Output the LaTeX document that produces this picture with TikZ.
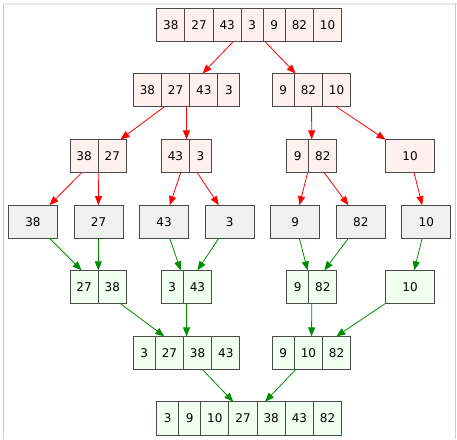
\documentclass[tikz,border=0pt]{standalone}
\usepackage{fontspec}
\setmainfont{DejaVu Sans}
\usetikzlibrary{arrows.meta,positioning,fit}
\definecolor{pinkf}{HTML}{FFF0F0}
\definecolor{grayf}{HTML}{F0F0F0}
\definecolor{greenf}{HTML}{F0FFF0}
\definecolor{edgered}{HTML}{FF0000}
\definecolor{edgegreen}{HTML}{008C00}
\definecolor{bord}{HTML}{4A4A4A}
\definecolor{frametop}{HTML}{EAECF0}
\definecolor{frameside}{HTML}{C8CCD1}
\tikzset{
  cell/.style={draw=bord, line width=0.9pt, outer sep=0pt, minimum height=33.3pt,
    inner sep=0pt, font=\fontsize{12}{14}\selectfont},
  two/.style={cell, minimum width=28.2pt},
  one/.style={cell, minimum width=22pt},
  wide/.style={cell, minimum width=49pt},
  pk/.style={fill=pinkf},
  gy/.style={fill=grayf},
  gn/.style={fill=greenf},
  rec/.style={draw=bord, line width=0.9pt, inner sep=0pt, outer sep=0pt},
  split/.style={draw=edgered, line width=0.8pt, -{Triangle[length=9pt,width=7pt]}},
  merge/.style={draw=edgegreen, line width=0.8pt, -{Triangle[length=9pt,width=7pt]}},
  r/.style={right=0pt of #1}
}
\begin{document}
\begin{tikzpicture}[x=1pt,y=-1pt]
\useasboundingbox (0,0) rectangle (457,439);
\draw[frametop, line width=1.2pt] (3,4) -- (457,4);
\draw[frameside, line width=1.2pt] (3.6,4) -- (3.6,439);
\draw[frameside, line width=1.2pt] (455.7,4) -- (455.7,439);

% Row 1
\node[two,pk,anchor=west] (a1) at (156.7,25) {38};
\node[two,pk,r=a1] (a2) {27};
\node[two,pk,r=a2] (a3) {43};
\node[one,pk,r=a3] (a4) {3};
\node[one,pk,r=a4] (a5) {9};
\node[two,pk,r=a5] (a6) {82};
\node[two,pk,r=a6] (a7) {10};
\node[rec,fit=(a1)(a7)] (A) {};

% Row 2
\node[two,pk,anchor=west] (b1) at (133.3,90.2) {38};
\node[two,pk,r=b1] (b2) {27};
\node[two,pk,r=b2] (b3) {43};
\node[one,pk,r=b3] (b4) {3};
\node[rec,fit=(b1)(b4)] (B) {};
\node[one,pk,anchor=west] (c1) at (272.3,90.2) {9};
\node[two,pk,r=c1] (c2) {82};
\node[two,pk,r=c2] (c3) {10};
\node[rec,fit=(c1)(c3)] (C) {};

% Row 3
\node[two,pk,anchor=west] (d1) at (70,156) {38};
\node[two,pk,r=d1] (d2) {27};
\node[rec,fit=(d1)(d2)] (D) {};
\node[two,pk,anchor=west] (e1) at (161.3,156) {43};
\node[one,pk,r=e1] (e2) {3};
\node[rec,fit=(e1)(e2)] (E) {};
\node[one,pk,anchor=west] (f1) at (286.7,156) {9};
\node[two,pk,r=f1] (f2) {82};
\node[rec,fit=(f1)(f2)] (F) {};
\node[wide,pk] (G) at (410,156) {10};

% Row 4
\node[wide,gy] (g1) at (33,221.8) {38};
\node[wide,gy] (g2) at (98.6,221.8) {27};
\node[wide,gy] (g3) at (164.1,221.8) {43};
\node[wide,gy] (g4) at (229.7,221.8) {3};
\node[wide,gy] (g5) at (295.2,221.8) {9};
\node[wide,gy] (g6) at (360.8,221.8) {82};
\node[wide,gy] (g7) at (426.3,221.8) {10};

% Row 5
\node[two,gn,anchor=west] (h1) at (70,287) {27};
\node[two,gn,r=h1] (h2) {38};
\node[rec,fit=(h1)(h2)] (H) {};
\node[one,gn,anchor=west] (i1) at (161.3,287) {3};
\node[two,gn,r=i1] (i2) {43};
\node[rec,fit=(i1)(i2)] (I) {};
\node[one,gn,anchor=west] (j1) at (286.7,287) {9};
\node[two,gn,r=j1] (j2) {82};
\node[rec,fit=(j1)(j2)] (J) {};
\node[wide,gn] (K) at (410,287) {10};

% Row 6
\node[one,gn,anchor=west] (l1) at (133.3,353) {3};
\node[two,gn,r=l1] (l2) {27};
\node[two,gn,r=l2] (l3) {38};
\node[two,gn,r=l3] (l4) {43};
\node[rec,fit=(l1)(l4)] (L) {};
\node[one,gn,anchor=west] (m1) at (272.3,353) {9};
\node[two,gn,r=m1] (m2) {10};
\node[two,gn,r=m2] (m3) {82};
\node[rec,fit=(m1)(m3)] (M) {};

% Row 7
\node[one,gn,anchor=west] (n1) at (156.7,418.3) {3};
\node[one,gn,r=n1] (n2) {9};
\node[two,gn,r=n2] (n3) {10};
\node[two,gn,r=n3] (n4) {27};
\node[two,gn,r=n4] (n5) {38};
\node[two,gn,r=n5] (n6) {43};
\node[two,gn,r=n6] (n7) {82};
\node[rec,fit=(n1)(n7)] (N) {};

% split edges
\draw[split] (A) -- (B);
\draw[split] (A) -- (C);
\draw[split] (B) -- (D);
\draw[split] (B) -- (E);
\draw[split] (C) -- (F);
\draw[split] (C) -- (G);
\draw[split] (D) -- (g1);
\draw[split] (D) -- (g2);
\draw[split] (E) -- (g3);
\draw[split] (E) -- (g4);
\draw[split] (F) -- (g5);
\draw[split] (F) -- (g6);
\draw[split] (G) -- (g7);

% merge edges
\draw[merge] (g1) -- (H);
\draw[merge] (g2) -- (H);
\draw[merge] (g3) -- (I);
\draw[merge] (g4) -- (I);
\draw[merge] (g5) -- (J);
\draw[merge] (g6) -- (J);
\draw[merge] (g7) -- (K);
\draw[merge] (H) -- (L);
\draw[merge] (I) -- (L);
\draw[merge] (J) -- (M);
\draw[merge] (K) -- (M);
\draw[merge] (L) -- (N);
\draw[merge] (M) -- (N);
\end{tikzpicture}
\end{document}
